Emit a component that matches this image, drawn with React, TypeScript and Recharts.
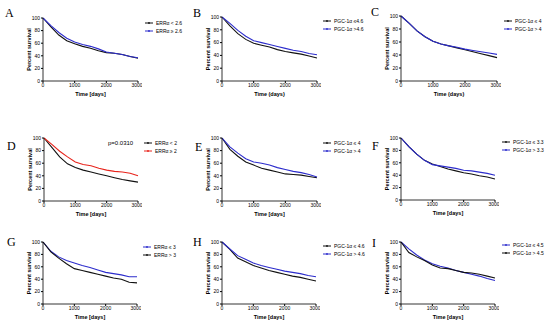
import React from 'react';
import { LineChart, Line, XAxis, YAxis, Legend } from 'recharts';

const TIMES = [0, 250, 500, 750, 1000, 1250, 1500, 1750, 2000, 2250, 2500, 2750, 3000];
const Y_TICKS = [0, 20, 40, 60, 80, 100];
const X_TICKS = [0, 1000, 2000, 3000];

const BLACK = '#111111';
const BLUE = '#2c2ccc';
const RED = '#e8241c';

const aLow = [100, 86, 73, 64, 59, 55, 52, 48, 45, 44, 42, 39, 36];
const aHigh = [100, 88, 77, 68, 62, 58, 55, 51, 46, 44, 42, 39, 37];
const bLow = [100, 86, 74, 65, 59, 56, 53, 49, 46, 44, 42, 39, 36];
const bHigh = [100, 90, 79, 70, 63, 60, 57, 54, 51, 48, 46, 43, 41];
const cLow = [100, 89, 77, 68, 61, 57, 54, 51, 48, 45, 42, 39, 36];
const cHigh = [100, 89, 77, 68, 61, 57, 54, 52, 49, 47, 45, 43, 41];
const dLow = [100, 85, 70, 59, 53, 49, 46, 43, 40, 37, 34, 32, 30];
const dHigh = [100, 90, 79, 70, 62, 58, 56, 52, 49, 47, 46, 44, 40];
const eLow = [100, 82, 71, 62, 57, 52, 49, 46, 43, 42, 41, 39, 37];
const eHigh = [100, 86, 76, 67, 62, 60, 57, 53, 50, 47, 45, 42, 38];
const fLow = [100, 86, 74, 64, 58, 54, 50, 47, 44, 42, 39, 37, 34];
const fHigh = [100, 86, 74, 64, 57, 55, 53, 51, 48, 47, 45, 43, 40];
const gLow = [100, 85, 76, 70, 66, 62, 59, 55, 51, 49, 47, 44, 44];
const gHigh = [100, 84, 74, 65, 57, 54, 51, 48, 45, 42, 40, 35, 34];
const hLow = [100, 88, 74, 68, 62, 58, 54, 51, 48, 45, 43, 40, 37];
const hHigh = [100, 89, 78, 72, 66, 62, 59, 56, 53, 51, 49, 46, 44];
const iLow = [100, 89, 79, 71, 65, 61, 58, 54, 51, 48, 45, 41, 38];
const iHigh = [100, 83, 76, 70, 63, 58, 57, 54, 51, 50, 48, 45, 42];

interface Series {
    name: string;
    color: string;
    values: number[];
}

interface PanelDef {
    letter: string;
    lx: number;
    ly: number;
    x0: number;
    x1: number;
    y0: number;
    y1: number;
    legX: number;
    legY: number;
    xLabel: string;
    series: Series[];
}

const PANELS: PanelDef[] = [
    { letter: 'A', lx: 5, ly: 17, x0: 43, x1: 138, y0: 18, y1: 81, legX: 145, legY: 19, xLabel: 'Time [days]',
      series: [{ name: 'ERRα < 2.6', color: BLACK, values: aLow }, { name: 'ERRα ≥ 2.6', color: BLUE, values: aHigh }] },
    { letter: 'B', lx: 193, ly: 17, x0: 222, x1: 317, y0: 17, y1: 81, legX: 323, legY: 17, xLabel: 'Time (days)',
      series: [{ name: 'PGC-1α ≤4.6', color: BLACK, values: bLow }, { name: 'PGC-1α >4.6', color: BLUE, values: bHigh }] },
    { letter: 'C', lx: 371, ly: 16, x0: 401, x1: 497, y0: 16, y1: 81, legX: 504, legY: 17, xLabel: 'Time (days)',
      series: [{ name: 'PGC-1α ≤ 4', color: BLACK, values: cLow }, { name: 'PGC-1α > 4', color: BLUE, values: cHigh }] },
    { letter: 'D', lx: 7, ly: 150, x0: 44, x1: 138, y0: 138, y1: 201, legX: 144, legY: 139, xLabel: 'Time [days]',
      series: [{ name: 'ERRα < 2', color: BLACK, values: dLow }, { name: 'ERRα ≥ 2', color: RED, values: dHigh }] },
    { letter: 'E', lx: 195, ly: 151, x0: 222, x1: 317, y0: 138, y1: 201, legX: 323, legY: 139, xLabel: 'Time [days]',
      series: [{ name: 'PGC-1α ≤ 4', color: BLACK, values: eLow }, { name: 'PGC-1α > 4', color: BLUE, values: eHigh }] },
    { letter: 'F', lx: 372, ly: 150, x0: 401, x1: 495, y0: 138, y1: 200, legX: 502, legY: 138, xLabel: 'Time [days]',
      series: [{ name: 'PGC-1α ≤ 3.3', color: BLACK, values: fLow }, { name: 'PGC-1α > 3.3', color: BLUE, values: fHigh }] },
    { letter: 'G', lx: 7, ly: 246, x0: 43, x1: 137, y0: 242, y1: 304, legX: 143, legY: 243, xLabel: 'Time [days]',
      series: [{ name: 'ERRα ≤ 3', color: BLUE, values: gLow }, { name: 'ERRα > 3', color: BLACK, values: gHigh }] },
    { letter: 'H', lx: 193, ly: 246, x0: 222, x1: 316, y0: 242, y1: 304, legX: 323, legY: 242, xLabel: 'Time [days]',
      series: [{ name: 'PGC-1α ≤ 4.6', color: BLACK, values: hLow }, { name: 'PGC-1α > 4.6', color: BLUE, values: hHigh }] },
    { letter: 'I', lx: 372, ly: 247, x0: 401, x1: 495, y0: 242, y1: 304, legX: 502, legY: 241, xLabel: 'Time [days]',
      series: [{ name: 'PGC-1α ≤ 4.5', color: BLUE, values: iLow }, { name: 'PGC-1α > 4.5', color: BLACK, values: iHigh }] },
];

const FONT = '"Liberation Sans", Arial, sans-serif';
const Y_AXIS_W = 30;
const TOP_PAD = 6;
const X_AXIS_H = 20;
const RIGHT_PAD = 4;

const Panel: React.FC<{ p: PanelDef }> = ({ p }) => {
    const plotW = p.x1 - p.x0;
    const plotH = p.y1 - p.y0;
    const left = p.x0 - Y_AXIS_W;
    const top = p.y0 - TOP_PAD;
    const width = Y_AXIS_W + plotW + RIGHT_PAD;
    const height = TOP_PAD + plotH + X_AXIS_H;
    const data = TIMES.map((t, i) => {
        const row: any = { t };
        p.series.forEach((s, k) => { row['s' + k] = s.values[i]; });
        return row;
    });
    const tick = { fontSize: 5, fill: '#000', fontFamily: FONT };

    const renderLegend = () => (
        <div style={{ fontFamily: FONT, fontSize: 5, lineHeight: '8px', color: '#000' }}>
            {p.series.map((s) => (
                <div key={s.name} style={{ display: 'flex', alignItems: 'center', height: 8, whiteSpace: 'nowrap' }}>
                    <svg width={10} height={4} style={{ marginRight: 1 }}>
                        <line x1={0} y1={2} x2={8} y2={2} stroke={s.color} strokeWidth={1} />
                        <circle cx={4} cy={2} r={0.9} fill={s.color} />
                    </svg>
                    <span>{s.name}</span>
                </div>
            ))}
        </div>
    );

    return (
        <div style={{ position: 'absolute', left, top }}>
            <LineChart width={width} height={height} data={data}
                margin={{ top: TOP_PAD, right: RIGHT_PAD, left: 0, bottom: 0 }}>
                <XAxis dataKey="t" type="number" domain={[0, 3000]} ticks={X_TICKS}
                    height={X_AXIS_H} tick={tick} tickSize={2} tickMargin={0}
                    stroke="#000" axisLine={{ stroke: '#000', strokeWidth: 0.8 }}
                    label={{ value: p.xLabel, position: 'insideBottom', offset: 5, fontSize: 5.5, fontWeight: 700, fill: '#000', fontFamily: FONT }} />
                <YAxis type="number" domain={[0, 100]} ticks={Y_TICKS} width={Y_AXIS_W}
                    tick={tick} tickSize={2} tickMargin={1}
                    stroke="#000" axisLine={{ stroke: '#000', strokeWidth: 0.8 }}
                    label={{ value: 'Percent survival', angle: -90, position: 'center', dx: 1, fontSize: 5.5, fontWeight: 700, fill: '#000', fontFamily: FONT }} />
                <Legend layout="vertical" align="center" verticalAlign="middle"
                    content={renderLegend}
                    wrapperStyle={{ left: p.legX - left, top: p.legY - top, width: 60 }} />
                {p.series.map((s, k) => (
                    <Line key={s.name} dataKey={'s' + k} name={s.name} type="linear"
                        stroke={s.color} strokeWidth={1.1} dot={false} isAnimationActive={false} />
                ))}
            </LineChart>
        </div>
    );
};

export default function App() {
    return (
        <div style={{ position: 'absolute', left: 0, top: 0, width: 550, height: 326, background: '#fff', overflow: 'hidden' }}>
            {PANELS.map((p) => <Panel key={p.letter} p={p} />)}
            <svg width={550} height={326} style={{ position: 'absolute', left: 0, top: 0, pointerEvents: 'none' }}>
                {PANELS.map((p) => (
                    <text key={p.letter} x={p.lx} y={p.ly} fill="#000" fontFamily='"Liberation Serif", "Times New Roman", serif' fontSize={12}>
                        {p.letter}
                    </text>
                ))}
                <text x={108} y={145} fill="#000" fontFamily={FONT} fontSize={6}>p=0.0310</text>
            </svg>
        </div>
    );
}
